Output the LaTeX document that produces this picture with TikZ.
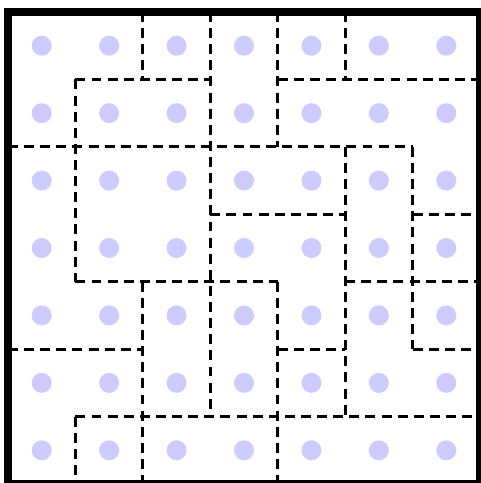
\documentclass[tikz,border=0pt]{standalone}
\usepackage{tikz}
\usetikzlibrary{calc}
\definecolor{dotc}{HTML}{CCCCFF}

\begin{document}
\begin{tikzpicture}[x=1cm,y=-1cm,
      dot/.style={circle,fill=dotc,inner sep=0pt,minimum size=2.97mm},
      wall/.style={line width=1.26pt,dash pattern=on 4.2pt off 2.6pt},
      frame/.style={line width=3.4pt},
    ]
    \useasboundingbox (-0.1186,-0.178) rectangle (7.0145,6.985);
    % grid corners and dots
    \foreach \i in {0,...,7} {
      \foreach \j in {0,...,7} {
        \coordinate (p\i\j) at (\i,\j);
      }
    }
    \foreach \i in {0,...,6} {
      \foreach \j in {0,...,6} {
        \node[dot] (d\i\j) at (\i+0.5,\j+0.5) {};
      }
    }
    % region borders
    \foreach \a/\b in {11/31,41/71,02/62,33/53,63/73,14/44,54/74,05/25,45/55,65/75,16/76,
                       11/14,16/17,20/21,24/27,30/36,40/42,44/47,50/51,52/56,62/65} {
      \draw[wall] (p\a) -- (p\b);
    }
    \draw[frame] (p00) rectangle (p77);
  \end{tikzpicture}
\end{document}
